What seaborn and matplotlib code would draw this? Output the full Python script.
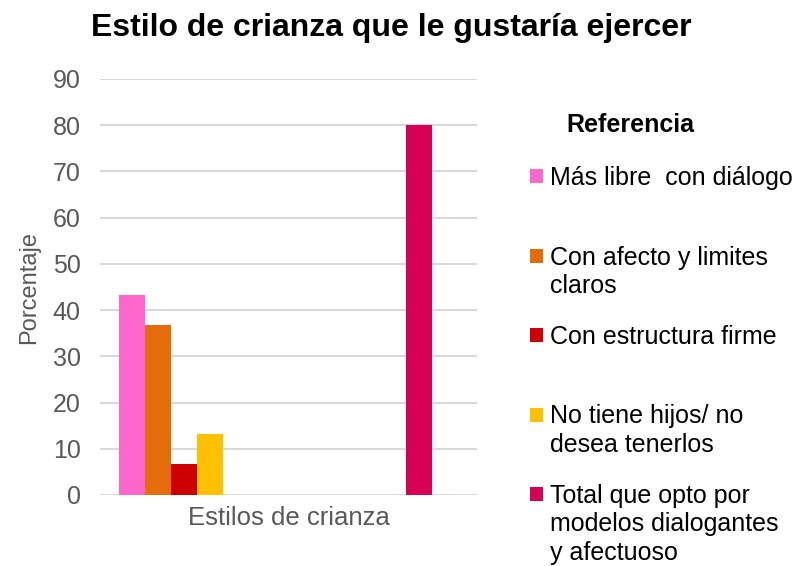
import pandas as pd
import seaborn as sns
import matplotlib.pyplot as plt
from matplotlib.patches import Patch

sns.set_style("white")
plt.rcParams["font.family"] = ["Liberation Sans", "DejaVu Sans"]
plt.rcParams["text.color"] = "black"

GRAY = "#595959"

categoria = "Estilos de crianza"
series = [
    "Más libre  con diálogo",
    "Con afecto y limites claros",
    "Con estructura firme",
    "No tiene hijos/ no desea tenerlos",
    "Total que opto por modelos dialogantes y afectuoso",
]
valores = [43.3, 36.7, 6.7, 13.3, 80.0]
colores = ["#FF66CC", "#E46C0A", "#CC0000", "#FFC000", "#D60054"]
# lineas de la leyenda tal como aparecen
etiquetas = [
    ["Más libre  con diálogo"],
    ["Con afecto y limites", "claros"],
    ["Con estructura firme"],
    ["No tiene hijos/ no", "desea tenerlos"],
    ["Total que opto por", "modelos dialogantes", "y afectuoso"],
]
# Excel deja huecos vacios entre la 4a y la 5a serie
orden = series[:4] + [f"_vacio{i}" for i in range(7)] + [series[4], "_vacio7"]

df = pd.DataFrame({"cat": [categoria] * len(series), "serie": series, "valor": valores})
paleta = {s: c for s, c in zip(series, colores)}
paleta.update({s: "#ffffff" for s in orden if s.startswith("_vacio")})

fig = plt.figure(figsize=(7.95, 5.66), dpi=100)
ax = fig.add_axes([100 / 795, 1 - 495 / 566, 377 / 795, (495 - 79) / 566])

sns.barplot(data=df, x="cat", y="valor", hue="serie", hue_order=orden,
            palette=paleta, width=0.9, gap=0, legend=False, ax=ax,
            saturation=1, linewidth=0)

ax.set_ylim(0, 90)
ax.set_xlim(-0.5, 0.5)
ax.set_yticks(range(0, 91, 10))
ax.yaxis.grid(True, color="#d9d9d9", linewidth=1.5)
ax.set_axisbelow(True)
for s in ax.spines.values():
    s.set_visible(False)
ax.tick_params(axis="y", length=0, labelsize=18, labelcolor=GRAY, pad=14)
ax.tick_params(axis="x", length=0, labelsize=18.5, labelcolor=GRAY, pad=8)
ax.set_ylabel("Porcentaje", fontsize=17, color=GRAY, labelpad=9)
ax.set_xlabel("")

fig.text(391 / 795, 1 - 28 / 566, "Estilo de crianza que le gustaría ejercer",
         ha="center", va="center", fontsize=23, fontweight="bold")
fig.text(630 / 795, 1 - 125 / 566, "Referencia", ha="center", va="center",
         fontsize=18, fontweight="bold")

handles = [Patch(facecolor=c, edgecolor="none") for c in colores]
leg = fig.legend(handles, [e[0] for e in etiquetas], loc="upper left",
                 bbox_to_anchor=(530 / 795, 1 - 166 / 566), frameon=False,
                 fontsize=18, handlelength=0.5, handleheight=0.5,
                 handletextpad=0.3, labelspacing=2.22, borderaxespad=0,
                 borderpad=0)

fig.canvas.draw()
inv = fig.transFigure.inverted()
for txt, lineas in zip(leg.get_texts(), etiquetas):
    bb = txt.get_window_extent()
    for j, linea in enumerate(lineas[1:], start=1):
        x0, y0 = inv.transform((bb.x0, bb.y1 - 28.5 * j))
        fig.text(x0, y0, linea, fontsize=18, ha="left", va="top")

fig.savefig("out.png", dpi=100)
